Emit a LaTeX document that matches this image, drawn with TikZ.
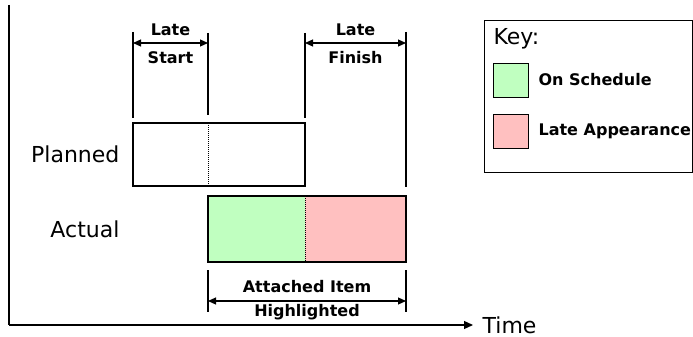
\documentclass[tikz,border=0pt]{standalone}
\usepackage{fontspec}
\setmainfont{DejaVu Sans}
\usetikzlibrary{arrows.meta,positioning}
\definecolor{ontime}{HTML}{C0FFC0}
\definecolor{lateapp}{HTML}{FFC0C0}
\begin{document}
\begin{tikzpicture}[x=1pt,y=-1pt,line width=1.2pt,
  bar/.style={minimum height=#1,inner sep=0pt,outer sep=0pt},
  dimarrow/.style={{Triangle[length=8pt,width=7pt]}-{Triangle[length=8pt,width=7pt]},line width=1.1pt},
  extline/.style={line width=1.1pt},
  smalltxt/.style={font=\bfseries\fontsize{16}{18}\selectfont,inner sep=0pt},
  bigtxt/.style={font=\fontsize{22}{25}\selectfont,inner sep=0pt}]
  \useasboundingbox (0,0) rectangle (693,337);
  % time marks
  \coordinate (t1) at (133,0);
  \coordinate (t2) at (208,0);
  \coordinate (t3) at (305,0);
  \coordinate (t4) at (406,0);
  % axes
  \coordinate (top) at (9,5);
  \coordinate (origin) at (9,325);
  \coordinate (tend) at (473,325);
  \draw (top) -- (origin);
  \draw[-{Triangle[length=9pt,width=8pt]}] (origin) -- (tend);
  \node[bigtxt,anchor=west] (time) at (482,325) {Time};
  % planned bar
  \node[bar=63pt,draw,minimum width=172pt,anchor=north west] (plan) at (133,123) {};
  \draw[densely dotted,line width=1pt] (plan.north -| t2) -- (plan.south -| t2);
  \node[bigtxt,left=13pt of plan] (planlbl) {Planned};
  % actual bar
  \node[bar=66pt,fill=ontime,minimum width=97pt,anchor=north west] (green) at (208,196) {};
  \node[bar=66pt,fill=lateapp,minimum width=101pt,anchor=west] (pink) at (green.east) {};
  \draw (green.north west) rectangle (pink.south east);
  \draw[densely dotted,line width=1pt] (green.north east) -- (green.south east);
  \node[bigtxt,anchor=east] (actlbl) at (planlbl.east |- green.west) {Actual};
  % late start
  \draw[extline] (t1 |- 0,32) -- (t1 |- 0,118);
  \draw[extline] (t2 |- 0,33) -- (t2 |- 0,115);
  \draw[dimarrow] (t1 |- 0,43) -- (t2 |- 0,43);
  \node[smalltxt] (ls1) at (170.5,30) {Late};
  \node[smalltxt] (ls2) at (170.5,58) {Start};
  % late finish
  \draw[extline] (t3 |- 0,33) -- (t3 |- 0,118);
  \draw[extline] (t4 |- 0,32) -- (t4 |- 0,187);
  \draw[dimarrow] (t3 |- 0,43) -- (t4 |- 0,43);
  \node[smalltxt] (lf1) at (355.5,30) {Late};
  \node[smalltxt] (lf2) at (355.5,58) {Finish};
  % highlighted span
  \draw[extline] (t2 |- 0,270) -- (t2 |- 0,312);
  \draw[extline] (t4 |- 0,270) -- (t4 |- 0,312);
  \draw[dimarrow] (t2 |- 0,301) -- (t4 |- 0,301);
  \node[smalltxt] (hl1) at (307,287) {Attached Item};
  \node[smalltxt] (hl2) at (307,312) {Highlighted};
  % key
  \node[draw,minimum width=208pt,minimum height=152pt,inner sep=0pt,anchor=north west] (key) at (484,20) {};
  \node[bigtxt,anchor=west] (keylbl) at (493,39) {Key:};
  \node[draw,fill=ontime,minimum width=35pt,minimum height=34pt,inner sep=0pt,anchor=north west] (kgreen) at (493,63) {};
  \node[draw,fill=lateapp,minimum width=35pt,minimum height=34pt,inner sep=0pt,anchor=north west] (kpink) at (493,114) {};
  \node[smalltxt,anchor=west] (kg) at (538,80) {On Schedule};
  \node[smalltxt,anchor=west] (kp) at (538,131) {Late Appearance};
\end{tikzpicture}
\end{document}
